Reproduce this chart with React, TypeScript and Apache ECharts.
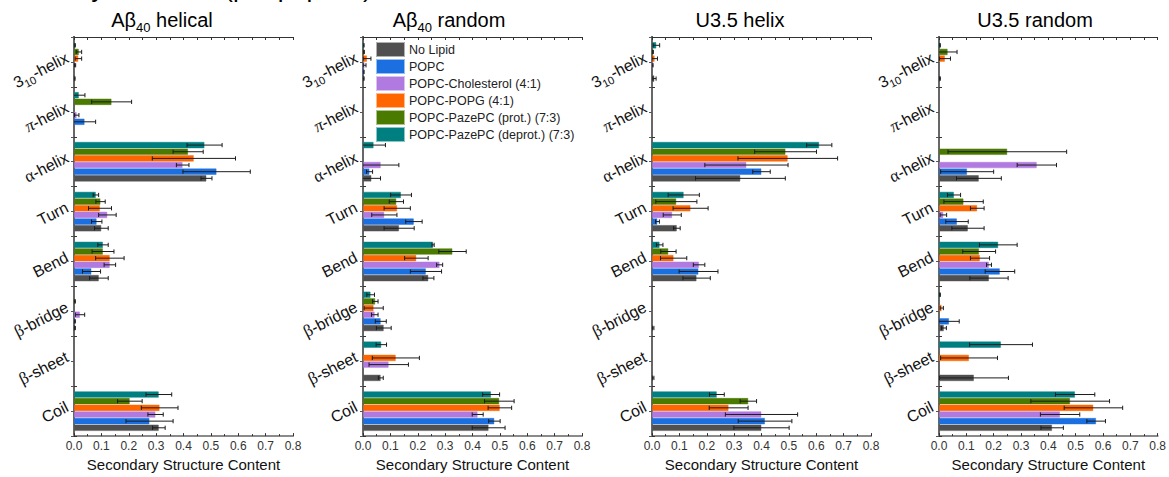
import React, { useEffect, useRef } from "react";
import * as echarts from "echarts";

// Secondary-structure categories, listed top to bottom as they appear on the axis
const structures = ["3_10-helix", "π-helix", "α-helix", "Turn", "Bend", "β-bridge", "β-sheet", "Coil"];

// Lipid environments (legend order)
const lipids = [
  "No Lipid",
  "POPC",
  "POPC-Cholesterol (4:1)",
  "POPC-POPG (4:1)",
  "POPC-PazePC (prot.) (7:3)",
  "POPC-PazePC (deprot.) (7:3)",
];
const lipidColors = ["#505050", "#1b6fe0", "#b07ae0", "#ff6600", "#4b7a00", "#007f80"];

const panelTitles = ["Aβ{sub|40} helical", "Aβ{sub|40} random", "U3.5 helix", "U3.5 random"];
const xAxisTitle = "Secondary Structure Content";
const xTickLabels = ["0.0", "0.1", "0.2", "0.3", "0.4", "0.5", "0.6", "0.7", "0.8"];

// Mean content, one row per lipid, columns follow `structures`
const abHelicalMean = [
  [0.002, 0, 0.484, 0.1, 0.091, 0.003, 0, 0.31],
  [0, 0.039, 0.521, 0.083, 0.064, 0.003, 0, 0.276],
  [0.004, 0.01, 0.397, 0.122, 0.131, 0.022, 0, 0.298],
  [0.016, 0, 0.438, 0.095, 0.131, 0, 0, 0.313],
  [0.018, 0.1375, 0.417, 0.097, 0.106, 0.003, 0, 0.204],
  [0.003, 0.018, 0.477, 0.08, 0.106, 0, 0, 0.31],
];
const abHelicalErr = [
  [0.002, 0, 0.02, 0.025, 0.034, 0.002, 0, 0.023],
  [0, 0.04, 0.123, 0.019, 0.033, 0.002, 0, 0.086],
  [0.002, 0.008, 0.023, 0.032, 0.021, 0.017, 0, 0.028],
  [0.012, 0, 0.152, 0.042, 0.052, 0, 0, 0.067],
  [0.01, 0.073, 0.055, 0.017, 0.04, 0.002, 0, 0.045],
  [0.002, 0.022, 0.064, 0.01, 0.019, 0, 0, 0.047],
];

const abRandomMean = [
  [0.002, 0, 0.031, 0.132, 0.239, 0.076, 0.065, 0.459],
  [0.002, 0, 0.024, 0.186, 0.23, 0.065, 0, 0.48],
  [0.006, 0, 0.065, 0.078, 0.28, 0.043, 0.094, 0.419],
  [0.015, 0, 0, 0.125, 0.195, 0.039, 0.12, 0.5],
  [0.003, 0, 0, 0.122, 0.327, 0.045, 0, 0.498],
  [0.002, 0, 0.039, 0.139, 0.256, 0.028, 0.067, 0.468],
];
const abRandomErr = [
  [0.002, 0, 0.033, 0.055, 0.02, 0.027, 0.009, 0.06],
  [0.002, 0, 0.011, 0.03, 0.057, 0.02, 0, 0.021],
  [0.005, 0, 0.066, 0.046, 0.011, 0.012, 0.072, 0.02],
  [0.014, 0, 0, 0.048, 0.043, 0.035, 0.086, 0.043],
  [0.002, 0, 0, 0.026, 0.05, 0.01, 0, 0.054],
  [0.002, 0, 0.043, 0.038, 0.004, 0.014, 0.019, 0.031],
];

const u35HelixMean = [
  [0.009, 0, 0.323, 0.091, 0.163, 0.004, 0.004, 0.4],
  [0, 0, 0.4, 0.02, 0.17, 0, 0, 0.413],
  [0.002, 0, 0.345, 0.074, 0.172, 0, 0, 0.4],
  [0.01, 0, 0.496, 0.141, 0.079, 0, 0, 0.28],
  [0.003, 0, 0.488, 0.089, 0.06, 0, 0, 0.352],
  [0.016, 0, 0.611, 0.116, 0.028, 0, 0, 0.237],
];
const u35HelixErr = [
  [0.006, 0, 0.164, 0.012, 0.05, 0.003, 0.003, 0.101],
  [0, 0, 0.032, 0.007, 0.071, 0, 0, 0.098],
  [0.002, 0, 0.152, 0.033, 0.021, 0, 0, 0.132],
  [0.01, 0, 0.182, 0.064, 0.048, 0, 0, 0.071],
  [0.002, 0, 0.113, 0.075, 0.028, 0, 0, 0.03],
  [0.012, 0, 0.046, 0.057, 0.012, 0, 0, 0.027],
];

const u35RandomMean = [
  [0.003, 0, 0.146, 0.106, 0.183, 0.018, 0.128, 0.414],
  [0, 0, 0.103, 0.066, 0.223, 0.037, 0, 0.575],
  [0, 0, 0.358, 0.016, 0.183, 0, 0, 0.443],
  [0.022, 0, 0, 0.14, 0.15, 0.01, 0.11, 0.565],
  [0.032, 0, 0.25, 0.09, 0.147, 0, 0, 0.48],
  [0.003, 0, 0, 0.055, 0.217, 0.003, 0.227, 0.498],
];
const u35RandomErr = [
  [0.002, 0, 0.082, 0.059, 0.07, 0.009, 0.126, 0.041],
  [0, 0, 0.097, 0.041, 0.054, 0.037, 0, 0.034],
  [0, 0, 0.072, 0.012, 0.009, 0, 0, 0.072],
  [0.02, 0, 0, 0.025, 0.035, 0.006, 0.104, 0.107],
  [0.034, 0, 0.217, 0.072, 0.06, 0, 0, 0.144],
  [0.002, 0, 0, 0.024, 0.069, 0.002, 0.115, 0.072],
];

const panelMeans = [abHelicalMean, abRandomMean, u35HelixMean, u35RandomMean];
const panelErrs = [abHelicalErr, abRandomErr, u35HelixErr, u35RandomErr];

// Layout
const FONT = "'Liberation Sans', Arial, Helvetica, sans-serif";
const GREEK = "'Liberation Serif', 'DejaVu Serif', serif";
const gridLefts = [74, 363, 652, 939];
const gridWidth = 219;
const gridTop = 37;
const gridHeight = 400;
const titleCenters = [162, 449, 740, 1035];
const CATEGORY_GAP = 0.2;

// ECharts category y axes run bottom-up
const axisCategories = [...structures].reverse();
const toAxisOrder = (row: number[]) => [...row].reverse();

const yLabelText = (name: string) => {
  switch (name) {
    case "3_10-helix":
      return "3{sub|10}-helix";
    case "π-helix":
      return "{pi|π}-helix";
    case "α-helix":
      return "{gk|α}-helix";
    case "β-bridge":
      return "{gk|β}-bridge";
    case "β-sheet":
      return "{gk|β}-sheet";
    default:
      return name;
  }
};

const renderErrorBar = (_params: any, api: any) => {
  const cat = api.value(0) as number;
  const slot = api.value(1) as number;
  const mean = api.value(2) as number;
  const err = api.value(3) as number;
  const band = (api.size([0, 1]) as number[])[1];
  const barH = (band * (1 - CATEGORY_GAP)) / lipids.length;
  const center = api.coord([mean, cat]);
  const y = center[1] + (slot - (lipids.length - 1) / 2) * barH;
  const x0 = api.coord([mean - err, cat])[0];
  const x1 = api.coord([mean + err, cat])[0];
  const cap = barH * 0.32;
  const style = { stroke: "#1c1c1c", lineWidth: 1, fill: "none" };
  return {
    type: "group",
    children: [
      { type: "line", shape: { x1: x0, y1: y, x2: x1, y2: y }, style },
      { type: "line", shape: { x1: x0, y1: y - cap, x2: x0, y2: y + cap }, style },
      { type: "line", shape: { x1: x1, y1: y - cap, x2: x1, y2: y + cap }, style },
    ],
  };
};

const hexToRgba = (hex: string, a: number) => {
  const n = parseInt(hex.slice(1), 16);
  return `rgba(${(n >> 16) & 255},${(n >> 8) & 255},${n & 255},${a})`;
};

function buildOption() {
  const grid: any[] = [];
  const xAxis: any[] = [];
  const yAxis: any[] = [];
  const series: any[] = [];
  const title: any[] = [];

  panelTitles.forEach((t, p) => {
    grid.push({ left: gridLefts[p], top: gridTop, width: gridWidth, height: gridHeight, containLabel: false });

    title.push({
      text: t,
      left: titleCenters[p],
      top: 6,
      textAlign: "center",
      padding: 0,
      textStyle: {
        fontFamily: FONT,
        fontSize: 20,
        fontWeight: "normal",
        color: "#000",
        lineHeight: 28,
        rich: { sub: { fontFamily: FONT, fontSize: 13, lineHeight: 13, verticalAlign: "bottom", color: "#000" } },
      },
    });

    // bottom value axis with labels
    xAxis.push({
      gridIndex: p,
      type: "value",
      position: "bottom",
      min: 0,
      max: 0.8,
      interval: 0.1,
      axisLine: { show: true, lineStyle: { color: "#8a8a8a", width: 2 } },
      axisTick: { show: true, inside: true, length: 3, lineStyle: { color: "#333" } },
      minorTick: { show: true, splitNumber: 2, length: 2, lineStyle: { color: "#333" } },
      splitLine: { show: false },
      axisLabel: {
        margin: 4,
        fontFamily: FONT,
        fontSize: 12,
        color: "#333",
        formatter: (v: number) => xTickLabels[Math.round(v * 10)] ?? "",
      },
      name: xAxisTitle,
      nameLocation: "middle",
      nameGap: 20,
      nameTextStyle: { fontFamily: FONT, fontSize: 15, color: "#111" },
    });
    // top frame axis
    xAxis.push({
      gridIndex: p,
      type: "value",
      position: "top",
      min: 0,
      max: 0.8,
      interval: 0.05,
      axisLine: { show: true, lineStyle: { color: "#333", width: 1 } },
      axisTick: { show: true, inside: true, length: 3, lineStyle: { color: "#333" } },
      axisLabel: { show: false },
      splitLine: { show: false },
    });

    // left category axis
    yAxis.push({
      gridIndex: p,
      type: "category",
      position: "left",
      data: axisCategories,
      axisLine: { show: true, lineStyle: { color: "#000", width: 2 } },
      axisTick: { show: true, inside: true, length: 3, lineStyle: { color: "#333" } },
      splitLine: { show: false },
      axisLabel: {
        rotate: 27,
        margin: 4,
        padding: [0, 0, 12, 0],
        fontFamily: FONT,
        fontSize: 16,
        color: "#111",
        lineHeight: 22,
        formatter: yLabelText,
        rich: {
          sub: { fontFamily: FONT, fontSize: 11, lineHeight: 11, verticalAlign: "bottom", color: "#111" },
          gk: { fontFamily: GREEK, fontSize: 17, lineHeight: 22, color: "#111" },
          pi: { fontFamily: GREEK, fontStyle: "italic", fontSize: 17, lineHeight: 22, color: "#111" },
        },
      },
    });
    // right frame axis with band ticks
    yAxis.push({
      gridIndex: p,
      type: "value",
      position: "right",
      min: 0,
      max: 8,
      interval: 0.5,
      axisLine: { show: true, lineStyle: { color: "#8a8a8a", width: 1.5 } },
      axisTick: { show: true, inside: true, length: 3, lineStyle: { color: "#555" } },
      axisLabel: { show: false },
      splitLine: { show: false },
    });

    const means = panelMeans[p];
    const errs = panelErrs[p];

    // bars: top slot of each group is the last lipid
    for (let k = lipids.length - 1; k >= 0; k--) {
      series.push({
        type: "bar",
        name: lipids[k],
        xAxisIndex: 2 * p,
        yAxisIndex: 2 * p,
        data: toAxisOrder(means[k]).map((v) => (v > 0 ? v : "-")),
        barGap: "0%",
        barCategoryGap: `${CATEGORY_GAP * 100}%`,
        itemStyle: { color: lipidColors[k], borderColor: hexToRgba(lipidColors[k], 0.45), borderWidth: 1 },
        emphasis: { disabled: true },
        z: 2,
      });
    }

    const errData: number[][] = [];
    for (let k = 0; k < lipids.length; k++) {
      const m = toAxisOrder(means[k]);
      const e = toAxisOrder(errs[k]);
      m.forEach((v, c) => {
        if (e[c] > 0) errData.push([c, lipids.length - 1 - k, v, e[c]]);
      });
    }
    series.push({
      type: "custom",
      xAxisIndex: 2 * p,
      yAxisIndex: 2 * p,
      data: errData,
      encode: { x: 2, y: 0 },
      renderItem: renderErrorBar,
      clip: true,
      silent: true,
      z: 3,
    });
  });

  return {
    animation: false,
    backgroundColor: "#fff",
    textStyle: { fontFamily: FONT },
    title,
    grid,
    xAxis,
    yAxis,
    series,
    legend: {
      data: lipids,
      orient: "vertical",
      left: 376,
      top: 42,
      itemWidth: 27,
      itemHeight: 13,
      itemGap: 2,
      padding: 0,
      icon: "rect",
      selectedMode: false,
      textStyle: { fontFamily: FONT, fontSize: 12.5, color: "#222" },
    },
    graphic: [
      {
        type: "text",
        x: -20,
        y: -12,
        silent: true,
        style: {
          text: "Secondary Structure (per peptide)",
          fontFamily: FONT,
          fontSize: 26,
          fill: "#000",
          verticalAlign: "middle",
        },
      },
    ],
  };
}

export default function App() {
  const ref = useRef<HTMLDivElement>(null);
  useEffect(() => {
    if (!ref.current) return;
    const chart = echarts.init(ref.current, undefined, { renderer: "svg" });
    chart.setOption(buildOption() as any);
    return () => chart.dispose();
  }, []);
  return (
    <div
      ref={ref}
      style={{ position: "fixed", left: 0, top: 0, width: 1169, height: 477, background: "#fff" }}
    />
  );
}
